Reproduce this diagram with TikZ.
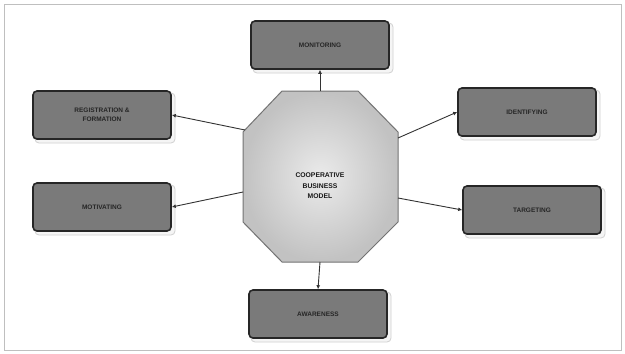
\documentclass[tikz,border=0pt]{standalone}
\usepackage{fontspec}
\setmainfont{Liberation Sans}
\usetikzlibrary{arrows.meta}
\begin{document}
\begin{tikzpicture}[x=1pt,y=-1pt,
  stagebox/.style={draw=black!85,line width=1.6pt,fill=black!52,rounded corners=4pt,
    minimum width=138pt,minimum height=48pt,align=center,text=black!85,
    font=\bfseries\fontsize{6.5}{9}\selectfont},
  shadowbox/.style={draw=black!18,line width=0.8pt,fill=black!4,rounded corners=4pt,
    minimum width=140pt,minimum height=50pt},
  link/.style={draw=black!80,line width=0.9pt,-{Latex[length=4pt,width=4pt]}}]
\useasboundingbox (0,0) rectangle (625,354);
\fill[white] (0,0) rectangle (625,354);
\draw[black!25,line width=0.8pt] (4,4) rectangle (621,350);
% shadows
\foreach \p in {(323,48),(105,118),(105,210),(530,115),(535,213),(321,317)}
  \node[shadowbox] at \p {};
% boxes
\node[stagebox] (top) at (320,45) {MONITORING};
\node[stagebox] (lt) at (102,115) {REGISTRATION \&\\FORMATION};
\node[stagebox] (lb) at (102,207) {MOTIVATING};
\node[stagebox] (rt) at (527,112) {IDENTIFYING};
\node[stagebox] (rb) at (532,210) {TARGETING};
\node[stagebox] (bot) at (318,314) {AWARENESS};
% octagon
\shade[draw=black!55,line width=1pt,inner color=black!8,outer color=black!24]
  (282,91) -- (358,91) -- (398,132) -- (398,222) -- (358,262) -- (282,262)
  -- (243,222) -- (243,132) -- cycle;
\node[font=\bfseries\fontsize{6.8}{10.5}\selectfont,align=center,text=black!90] (core) at (320,186)
  {COOPERATIVE\\BUSINESS\\MODEL};
\coordinate (oT) at (320,91);
\coordinate (oB) at (320,262);
\coordinate (oLT) at (245,130);
\coordinate (oLB) at (243,192);
\coordinate (oRT) at (398,138);
\coordinate (oRB) at (398,198);
\draw[link] (oT) -- (top.south);
\draw[link] (oB) -- (bot.north);
\draw[link] (oLT) -- (lt.east);
\draw[link] (oLB) -- (lb.east);
\draw[link] (oRT) -- (rt.west);
\draw[link] (oRB) -- (rb.west);
\end{tikzpicture}
\end{document}
